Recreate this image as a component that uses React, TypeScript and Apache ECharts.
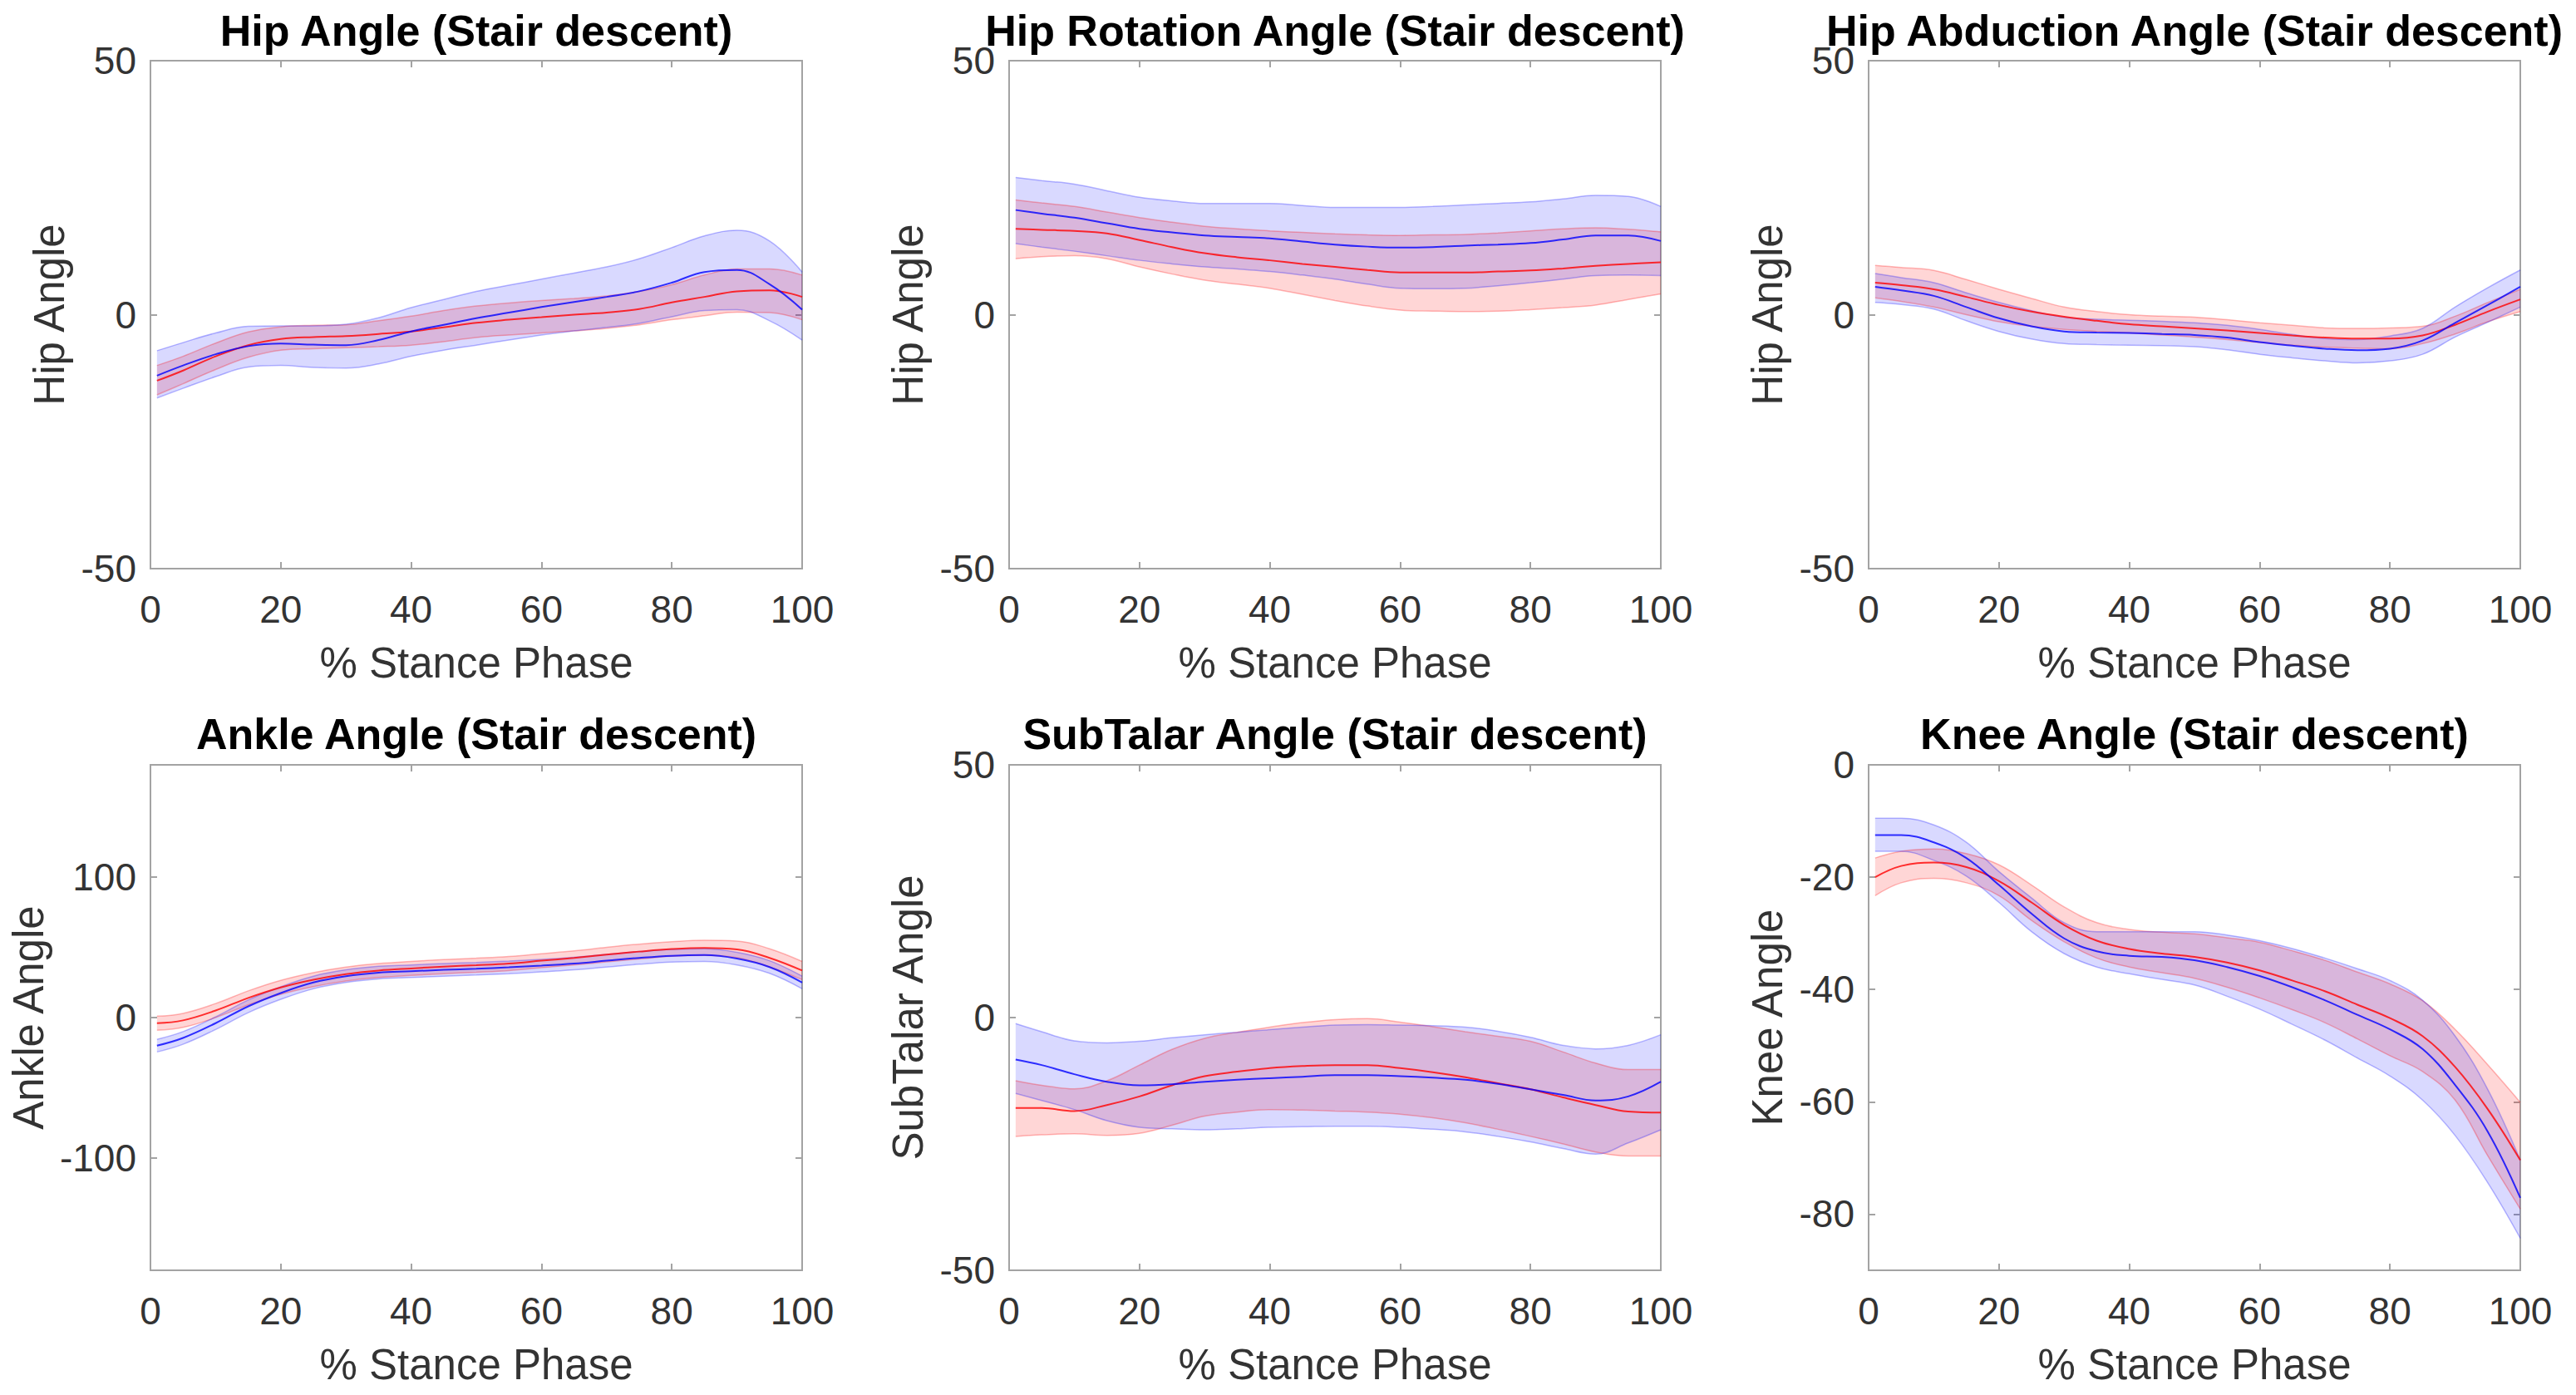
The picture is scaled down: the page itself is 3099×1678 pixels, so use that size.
import React, { useEffect, useRef } from "react";
import * as echarts from "echarts";

// ---------- DATA ----------
const X = [1, 5, 10, 15, 20, 25, 30, 35, 40, 45, 50, 55, 60, 65, 70, 75, 80, 85, 90, 95, 100];
const X_TICKS = [0, 20, 40, 60, 80, 100];

// Hip Angle
const hipBlueMean = [-12, -10, -7.8, -6.2, -5.7, -5.9, -6.0, -5.0, -3.3, -2.0, -0.7, 0.4, 1.5, 2.5, 3.5, 4.6, 6.3, 8.4, 8.8, 6.0, 1.0];
const hipBlueUpper = [-7.1, -5.5, -3.6, -2.3, -2.2, -2.2, -1.9, -0.6, 1.4, 3.0, 4.6, 5.8, 7.0, 8.2, 9.4, 11.0, 13.2, 15.5, 16.6, 14.5, 8.4];
const hipBlueLower = [-16.4, -14.5, -12.2, -10.3, -10.0, -10.4, -10.5, -9.7, -8.2, -7.0, -6.0, -5.0, -4.0, -3.2, -2.5, -1.7, -0.4, 0.8, 1.0, -1.2, -5.0];
const hipRedMean = [-13, -11, -8.2, -6.0, -4.8, -4.4, -4.2, -3.8, -3.3, -2.5, -1.6, -1.0, -0.5, 0.0, 0.4, 1.1, 2.4, 3.5, 4.6, 4.8, 3.5];
const hipRedUpper = [-10, -8.2, -5.6, -3.4, -2.4, -2.1, -2.0, -1.2, -0.3, 0.8, 1.7, 2.3, 2.8, 3.2, 3.7, 4.6, 5.9, 7.8, 9.0, 9.0, 7.8];
const hipRedLower = [-15.8, -13.6, -10.8, -8.4, -7.0, -6.7, -6.5, -6.3, -6.0, -5.3, -4.5, -4.0, -3.6, -3.2, -2.7, -2.0, -1.0, -0.2, 0.5, 0.4, -1.0];

// Hip Rotation Angle
const rotBlueMean = [20.6, 19.9, 19.1, 18.0, 16.9, 16.2, 15.6, 15.3, 15.0, 14.4, 13.8, 13.4, 13.2, 13.3, 13.6, 13.8, 14.1, 14.8, 15.6, 15.6, 14.5];
const rotBlueUpper = [27.0, 26.4, 25.7, 24.4, 23.1, 22.4, 21.9, 21.9, 21.9, 21.5, 21.1, 21.1, 21.1, 21.3, 21.6, 21.9, 22.2, 22.8, 23.5, 23.3, 21.3];
const rotBlueLower = [14.0, 13.3, 12.5, 11.6, 10.7, 10.0, 9.4, 9.0, 8.5, 7.8, 7.0, 6.0, 5.2, 5.1, 5.2, 5.7, 6.3, 7.0, 7.7, 7.8, 7.7];
const rotRedMean = [16.9, 16.7, 16.5, 16.0, 14.7, 13.3, 12.1, 11.3, 10.7, 10.0, 9.4, 8.8, 8.3, 8.3, 8.3, 8.5, 8.7, 9.1, 9.6, 10.0, 10.3];
const rotRedUpper = [22.6, 22.0, 21.3, 20.2, 19.1, 18.2, 17.4, 16.9, 16.5, 16.2, 15.9, 15.7, 15.6, 15.7, 15.8, 16.1, 16.5, 16.9, 17.1, 16.8, 16.3];
const rotRedLower = [11.0, 11.4, 11.6, 11.0, 9.4, 8.0, 6.8, 6.0, 5.2, 4.0, 2.8, 1.7, 0.9, 0.7, 0.6, 0.7, 1.0, 1.4, 1.9, 3.0, 4.1];

// Hip Abduction Angle
const abdBlueMean = [5.5, 4.8, 3.7, 1.5, -0.7, -2.3, -3.3, -3.5, -3.6, -3.8, -4.0, -4.5, -5.4, -6.1, -6.7, -7.0, -6.7, -5.1, -1.6, 1.9, 5.5];
const abdBlueUpper = [8.1, 7.3, 6.3, 4.3, 2.4, 0.8, -0.5, -0.9, -1.1, -1.3, -1.6, -2.1, -2.9, -3.9, -4.7, -4.9, -4.2, -2.7, 1.5, 5.3, 8.8];
const abdBlueLower = [2.4, 2.0, 1.1, -1.2, -3.3, -4.8, -5.7, -5.9, -6.0, -6.1, -6.3, -6.9, -7.8, -8.5, -9.1, -9.5, -9.1, -7.8, -4.4, -1.5, 1.5];
const abdRedMean = [6.3, 5.8, 5.0, 3.5, 1.9, 0.6, -0.4, -1.2, -1.9, -2.3, -2.7, -3.1, -3.6, -4.1, -4.5, -4.7, -4.7, -4.1, -2.0, 0.6, 3.0];
const abdRedUpper = [9.7, 9.3, 8.7, 6.9, 5.0, 3.2, 1.5, 0.6, 0.0, -0.3, -0.5, -1.0, -1.6, -2.1, -2.6, -2.7, -2.6, -2.3, -0.3, 2.4, 5.0];
const abdRedLower = [3.3, 2.6, 1.5, 0.0, -1.4, -2.3, -2.9, -3.3, -3.6, -4.0, -4.4, -4.9, -5.5, -6.0, -6.4, -6.6, -6.7, -5.7, -3.8, -1.4, 0.6];

// Ankle Angle
const ankBlueMean = [-20, -14.5, -4, 8, 17.5, 25, 29.5, 32, 33, 34, 34.8, 35.8, 37, 38.5, 40.5, 42.5, 44, 44.5, 42, 36, 25];
const ankBlueUpper = [-15.5, -10, 0.5, 12.5, 22, 29.5, 34, 36.5, 37.5, 38.5, 39.3, 40.3, 41.5, 43, 45, 47, 48.5, 49, 46.5, 40.5, 29.5];
const ankBlueLower = [-24.5, -19, -8.5, 3.5, 13, 20.5, 25, 27.5, 28.5, 29.5, 30.3, 31.3, 32.5, 34, 36, 38, 39.5, 40, 37.5, 31.5, 20.5];
const ankRedMean = [-4, -2, 5, 14, 21.5, 27, 31, 33.5, 35, 36.3, 37.3, 38.5, 40.5, 42.5, 44.8, 47, 48.8, 49.6, 48.6, 42.5, 33.5];
const ankRedUpper = [1, 3, 10, 19, 26.5, 32, 36, 38.5, 40, 41.3, 42.3, 43.5, 45.5, 47.5, 50, 52.3, 54, 55, 54.5, 49, 40];
const ankRedLower = [-9, -7, 0, 9, 16.5, 22, 26, 28.5, 30, 31.3, 32.3, 33.5, 35.5, 37.5, 39.6, 41.7, 43.6, 44.2, 42.7, 36, 27];

// SubTalar Angle
const subBlueMean = [-8.3, -9.4, -11.2, -12.7, -13.4, -13.2, -12.7, -12.3, -12.0, -11.7, -11.4, -11.4, -11.6, -11.9, -12.3, -13.1, -14.2, -15.3, -16.4, -15.6, -12.7];
const subBlueUpper = [-1.2, -2.8, -4.6, -5.0, -4.7, -4.0, -3.4, -2.9, -2.4, -1.9, -1.5, -1.4, -1.5, -1.6, -1.9, -2.7, -3.9, -5.5, -6.2, -5.5, -3.4];
const subBlueLower = [-15.0, -16.4, -18.2, -20.4, -21.7, -22.0, -22.2, -22.0, -21.7, -21.6, -21.5, -21.5, -21.7, -22.1, -22.6, -23.5, -24.6, -25.9, -27.0, -24.8, -22.2];
const subRedMean = [-17.9, -17.9, -18.5, -17.3, -15.6, -13.4, -11.6, -10.7, -10.0, -9.6, -9.4, -9.4, -10.0, -10.8, -11.8, -13.0, -14.2, -15.8, -17.3, -18.6, -18.8];
const subRedUpper = [-12.5, -13.4, -14.1, -12.5, -9.4, -6.3, -4.1, -2.9, -1.9, -1.0, -0.4, -0.2, -0.9, -1.8, -2.8, -3.7, -4.7, -6.8, -9.0, -10.3, -10.3];
const subRedLower = [-23.5, -23.2, -23.0, -23.3, -22.9, -21.3, -19.5, -18.7, -18.2, -18.3, -18.5, -18.7, -19.1, -19.8, -20.8, -22.1, -23.5, -25.0, -26.6, -27.4, -27.4];

// Knee Angle
const kneeBlueMean = [-12.5, -12.5, -13.8, -16.6, -21.4, -26.5, -30.9, -33.2, -34.0, -34.2, -34.8, -36.0, -37.6, -39.6, -41.9, -44.5, -47.1, -50.6, -57.0, -65.3, -77.1];
const kneeBlueUpper = [-9.5, -9.5, -10.7, -13.8, -19.0, -23.7, -28.1, -29.7, -29.7, -29.7, -29.7, -30.3, -31.3, -32.7, -34.4, -36.3, -38.4, -41.9, -48.3, -57.8, -70.4];
const kneeBlueLower = [-15.4, -15.4, -17.0, -19.8, -24.5, -29.7, -33.6, -36.0, -37.2, -38.2, -39.2, -41.2, -43.5, -46.2, -49.0, -52.2, -55.4, -59.7, -66.0, -74.4, -84.3];
const kneeRedMean = [-20.0, -18.0, -17.4, -18.2, -20.7, -24.5, -28.5, -31.3, -32.8, -33.6, -34.2, -35.2, -36.6, -38.4, -40.3, -42.7, -45.1, -48.3, -53.8, -61.3, -70.4];
const kneeRedUpper = [-16.6, -15.4, -15.0, -15.8, -17.8, -21.4, -25.3, -28.1, -29.3, -29.8, -30.1, -30.8, -31.6, -33.1, -34.8, -36.9, -39.0, -42.0, -47.1, -53.4, -60.1];
const kneeRedLower = [-23.3, -21.0, -20.2, -21.0, -23.3, -27.7, -31.5, -34.4, -36.0, -37.0, -38.0, -39.6, -41.5, -43.6, -45.9, -48.8, -51.8, -54.6, -59.7, -69.6, -79.1];

const TITLES = [
  "Hip Angle (Stair descent)",
  "Hip Rotation Angle (Stair descent)",
  "Hip Abduction Angle (Stair descent)",
  "Ankle Angle (Stair descent)",
  "SubTalar Angle (Stair descent)",
  "Knee Angle (Stair descent)",
];
const Y_NAMES = ["Hip Angle", "Hip Angle", "Hip Angle", "Ankle Angle", "SubTalar Angle", "Knee Angle"];
const X_NAME = "% Stance Phase";
const Y_RANGES = [
  [-50, 50],
  [-50, 50],
  [-50, 50],
  [-180, 180],
  [-50, 50],
  [-90, 0],
];
const Y_TICKS = [
  [-50, 0, 50],
  [-50, 0, 50],
  [-50, 0, 50],
  [-100, 0, 100],
  [-50, 0, 50],
  [-80, -60, -40, -20, 0],
];
const BLUE = [
  [hipBlueMean, hipBlueUpper, hipBlueLower],
  [rotBlueMean, rotBlueUpper, rotBlueLower],
  [abdBlueMean, abdBlueUpper, abdBlueLower],
  [ankBlueMean, ankBlueUpper, ankBlueLower],
  [subBlueMean, subBlueUpper, subBlueLower],
  [kneeBlueMean, kneeBlueUpper, kneeBlueLower],
];
const RED = [
  [hipRedMean, hipRedUpper, hipRedLower],
  [rotRedMean, rotRedUpper, rotRedLower],
  [abdRedMean, abdRedUpper, abdRedLower],
  [ankRedMean, ankRedUpper, ankRedLower],
  [subRedMean, subRedUpper, subRedLower],
  [kneeRedMean, kneeRedUpper, kneeRedLower],
];

// ---------- LAYOUT / STYLE ----------
const W = 3099;
const H = 1678;
const FONT = '"Liberation Sans", Arial, Helvetica, sans-serif';
const COL_LEFT = [181, 1214, 2248];
const ROW_TOP = [73, 920];
const ROW_H = [611, 608];
const GRID_W = 784;
const TITLE_TOP = [17, 863];
const Y_NAME_GAP = [96, 96, 96, 121, 96, 96];
const AXIS_COLOR = "#a3a3a3";
const TEXT_COLOR = "#333333";

function buildOption() {
  const grids: any[] = [];
  const xMain: any[] = [];
  const xTop: any[] = [];
  const yMain: any[] = [];
  const yRight: any[] = [];
  const titles: any[] = [];
  const series: any[] = [];

  const tick = { show: true, inside: true, length: 8, lineStyle: { color: AXIS_COLOR, width: 2 } };
  const noLine = { show: false, onZero: false };

  for (let i = 0; i < 6; i++) {
    const col = i % 3;
    const row = Math.floor(i / 3);
    const left = COL_LEFT[col];
    const top = ROW_TOP[row];
    const height = ROW_H[row];
    grids.push({
      left,
      top,
      width: GRID_W,
      height,
      show: true,
      borderColor: AXIS_COLOR,
      borderWidth: 2,
      backgroundColor: "transparent",
      containLabel: false,
    });
    titles.push({
      text: TITLES[i],
      left: left + GRID_W / 2,
      top: TITLE_TOP[row],
      textAlign: "center",
      padding: 0,
      textStyle: { fontSize: 52, fontWeight: "bold", color: "#000", fontFamily: FONT, lineHeight: 40 },
    });
    xMain.push({
      gridIndex: i,
      type: "value",
      position: "bottom",
      min: 0,
      max: 100,
      interval: 20,
      axisLine: noLine,
      axisTick: tick,
      splitLine: { show: false },
      axisLabel: { margin: 26, fontSize: 46, color: TEXT_COLOR, fontFamily: FONT, customValues: X_TICKS },
      name: X_NAME,
      nameLocation: "middle",
      nameGap: 88,
      nameTextStyle: { fontSize: 51, color: TEXT_COLOR, fontFamily: FONT },
    });
    xTop.push({
      gridIndex: i,
      type: "value",
      position: "top",
      min: 0,
      max: 100,
      interval: 20,
      axisLine: noLine,
      axisTick: tick,
      axisLabel: { show: false },
      splitLine: { show: false },
    });
    yMain.push({
      gridIndex: i,
      type: "value",
      position: "left",
      min: Y_RANGES[i][0],
      max: Y_RANGES[i][1],
      axisLine: noLine,
      axisTick: { ...tick, customValues: Y_TICKS[i] },
      splitLine: { show: false },
      axisLabel: {
        margin: 17,
        fontSize: 46,
        lineHeight: 30,
        color: TEXT_COLOR,
        fontFamily: FONT,
        customValues: Y_TICKS[i],
      },
      name: Y_NAMES[i],
      nameLocation: "middle",
      nameGap: Y_NAME_GAP[i],
      nameRotate: 90,
      nameTextStyle: { fontSize: 51, color: TEXT_COLOR, fontFamily: FONT },
    });
    yRight.push({
      gridIndex: i,
      type: "value",
      position: "right",
      min: Y_RANGES[i][0],
      max: Y_RANGES[i][1],
      axisLine: noLine,
      axisTick: { ...tick, customValues: Y_TICKS[i] },
      axisLabel: { show: false },
      splitLine: { show: false },
    });

    const band = (key: string, upper: number[], lower: number[], edge: string, fill: string) => {
      const common = {
        type: "line",
        xAxisIndex: i,
        yAxisIndex: i,
        stack: key,
        stackStrategy: "all",
        smooth: 0.4,
        symbol: "none",
        silent: true,
        encode: { x: 1, y: 0 },
        lineStyle: { color: edge, width: 1.5 },
        z: 2,
      };
      series.push({ ...common, data: X.map((x, k) => [lower[k], x]) });
      series.push({
        ...common,
        data: X.map((x, k) => [upper[k] - lower[k], x]),
        areaStyle: { color: fill, opacity: 1 },
      });
    };
    band("red" + i, RED[i][1], RED[i][2], "rgba(255,0,0,0.28)", "rgba(255,0,0,0.16)");
    band("blue" + i, BLUE[i][1], BLUE[i][2], "rgba(0,0,255,0.28)", "rgba(0,0,255,0.15)");

    const meanLine = (vals: number[], color: string) => ({
      type: "line",
      xAxisIndex: i,
      yAxisIndex: i,
      smooth: 0.4,
      symbol: "none",
      silent: true,
      data: X.map((x, k) => [x, vals[k]]),
      lineStyle: { color, width: 2, opacity: 0.8 },
      z: 3,
    });
    series.push(meanLine(RED[i][0], "#ff0000"));
    series.push(meanLine(BLUE[i][0], "#0000ff"));
  }

  return {
    animation: false,
    backgroundColor: "#ffffff",
    textStyle: { fontFamily: FONT },
    title: titles,
    grid: grids,
    xAxis: [...xMain, ...xTop],
    yAxis: [...yMain, ...yRight],
    series,
  };
}

export default function App() {
  const ref = useRef<HTMLDivElement>(null);
  useEffect(() => {
    if (!ref.current) return;
    const chart = echarts.init(ref.current, undefined, { renderer: "svg" });
    chart.setOption(buildOption() as any);
    return () => chart.dispose();
  }, []);
  return (
    <div
      ref={ref}
      style={{ position: "absolute", left: 0, top: 0, width: W, height: H, background: "#fff" }}
    />
  );
}
